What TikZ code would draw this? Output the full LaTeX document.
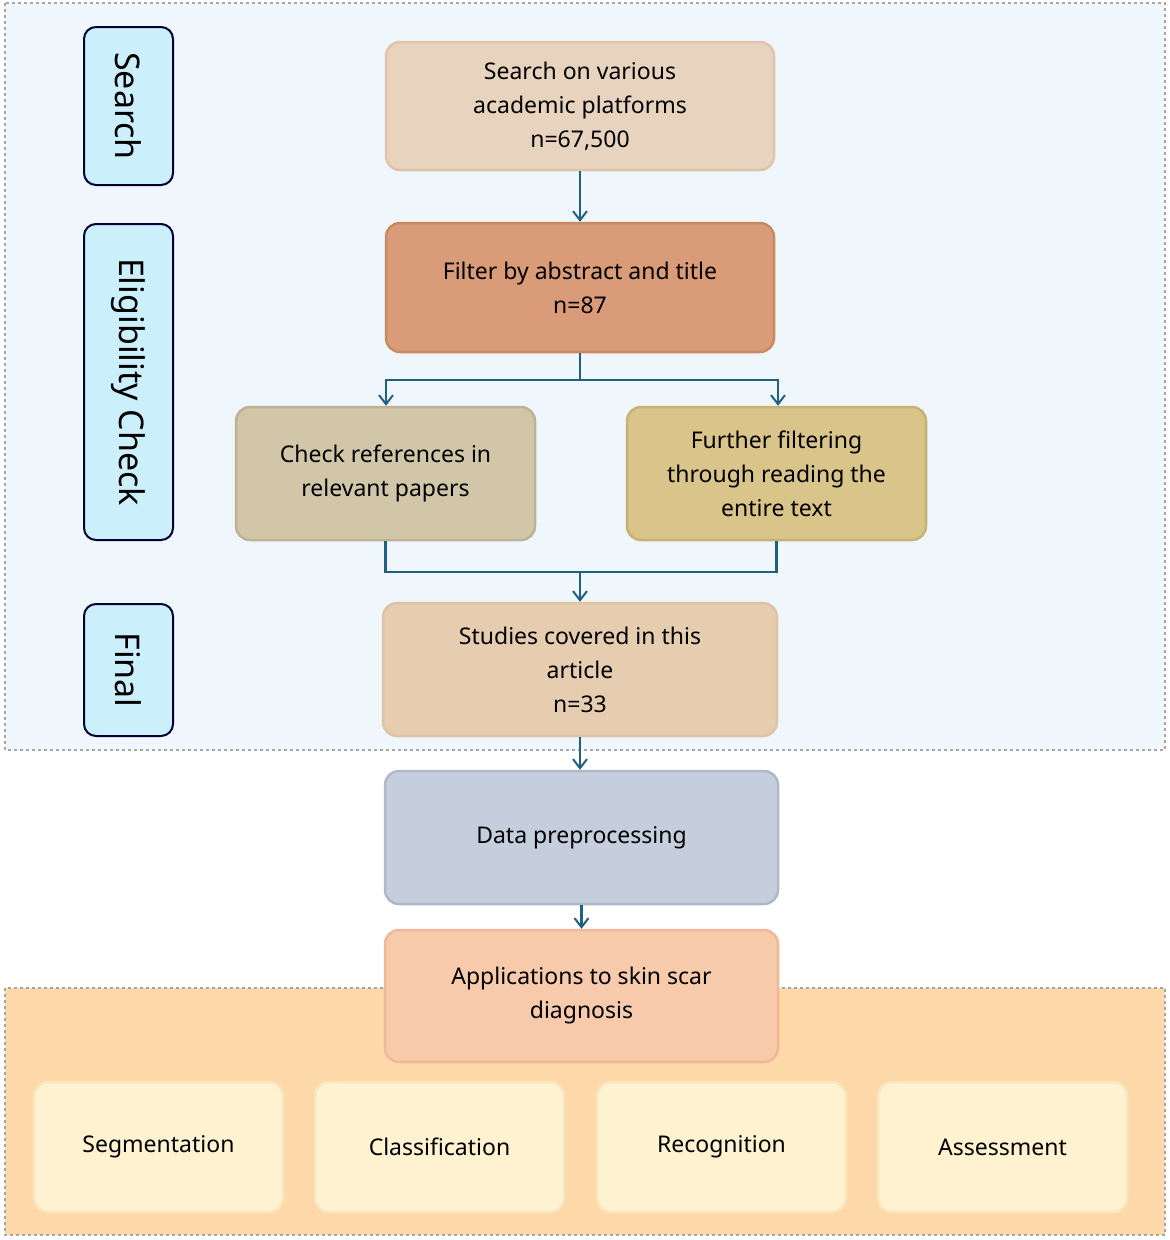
\documentclass[tikz,border=0pt]{standalone}
\usepackage{fontspec}
\setmainfont{Noto Sans}
\usetikzlibrary{arrows.meta}
\begin{document}
\begin{tikzpicture}[x=1pt,y=-1pt,
 box/.style={rounded corners=14pt,line width=2.5pt,align=center,font=\fontsize{23}{34}\selectfont},
 side/.style={rounded corners=12pt,line width=2pt,draw=black!80!blue,fill=cyan!20!white,font=\fontsize{34}{40}\selectfont},
 arr/.style={line width=2.5pt,draw=ac,-{Straight Barb[length=9pt,width=14pt,line width=2pt]}},
 ln/.style={line width=2.5pt,draw=ac}]
\definecolor{ac}{HTML}{1F5F80}
\useasboundingbox (0,0) rectangle (1170,1240);
\draw[dashed,line width=1.5pt,draw=gray!70,fill={rgb,255:red,239;green,247;blue,253}] (5,3) rectangle (1165,750);
\draw[dashed,line width=1.5pt,draw=gray!70,fill={rgb,255:red,253;green,216;blue,168}] (5,988) rectangle (1165,1235);
% side labels
\draw[side] (84,27) rectangle (173,185); \node[rotate=-90,font=\fontsize{34}{40}\selectfont] (s1) at (128.5,106) {Search};
\draw[side] (84,224) rectangle (173,540); \node[rotate=-90,font=\fontsize{34}{40}\selectfont] (s2) at (128.5,382) {Eligibility Check};
\draw[side] (84,604) rectangle (173,736); \node[rotate=-90,font=\fontsize{34}{40}\selectfont] (s3) at (128.5,670) {Final};
% boxes
\node[box,draw={rgb,255:red,224;green,196;blue,170},fill={rgb,255:red,232;green,211;blue,190},minimum width=388pt,minimum height=128pt] (b1) at (580,106) {Search on various\\academic platforms\\\textbf{n=67,500}};
\node[box,draw={rgb,255:red,201;green,138;blue,96},fill={rgb,255:red,217;green,155;blue,120},minimum width=388pt,minimum height=129pt] (b2) at (580,287.5) {Filter by abstract and title\\\textbf{n=87}};
\node[box,draw={rgb,255:red,190;green,178;blue,150},fill={rgb,255:red,210;green,198;blue,168},minimum width=299pt,minimum height=133pt] (b3) at (385.5,473.5) {Check references in\\relevant papers};
\node[box,draw={rgb,255:red,200;green,178;blue,115},fill={rgb,255:red,217;green,196;blue,138},minimum width=299pt,minimum height=133pt] (b4) at (776.5,473.5) {Further filtering\\through reading the\\entire text};
\node[box,draw={rgb,255:red,222;green,196;blue,165},fill={rgb,255:red,230;green,205;blue,176},minimum width=394pt,minimum height=133pt] (b5) at (580,669.5) {Studies covered in this\\article\\\textbf{n=33}};
\node[box,draw={rgb,255:red,174;green,184;blue,200},fill={rgb,255:red,196;green,206;blue,220},minimum width=393pt,minimum height=133pt] (b6) at (581.5,837.5) {Data preprocessing};
\node[box,draw={rgb,255:red,240;green,184;blue,152},fill={rgb,255:red,246;green,202;blue,170},minimum width=393pt,minimum height=132pt] (b7) at (581.5,996) {Applications to skin scar\\diagnosis};
\foreach \n/\x/\t in {c1/158.5/Segmentation,c2/439.5/Classification,c3/721.5/Recognition,c4/1002.5/Assessment}
 \node[box,draw={rgb,255:red,248;green,230;blue,192},fill={rgb,255:red,254;green,242;blue,208},minimum width=249pt,minimum height=130pt] (\n) at (\x,1147) {\t};
% connectors
\coordinate (j1) at (580,380);
\coordinate (j1l) at (386,380);
\coordinate (j1r) at (778,380);
\coordinate (j2) at (580,572);
\draw[arr] (b1) -- (b2);
\draw[ln] (b2.south) -- (j1);
\draw[arr] (j1) -- (j1l) -- (j1l |- b3.north);
\draw[arr] (j1) -- (j1r) -- (j1r |- b4.north);
\draw[ln] (b3.south) |- (j2);
\draw[ln] (b4.south) |- (j2);
\draw[arr] (j2) -- (j2 |- b5.north);
\draw[arr] (b5.south) -- (b5.south |- b6.north);
\draw[arr] (b6) -- (b7);
\end{tikzpicture}
\end{document}
